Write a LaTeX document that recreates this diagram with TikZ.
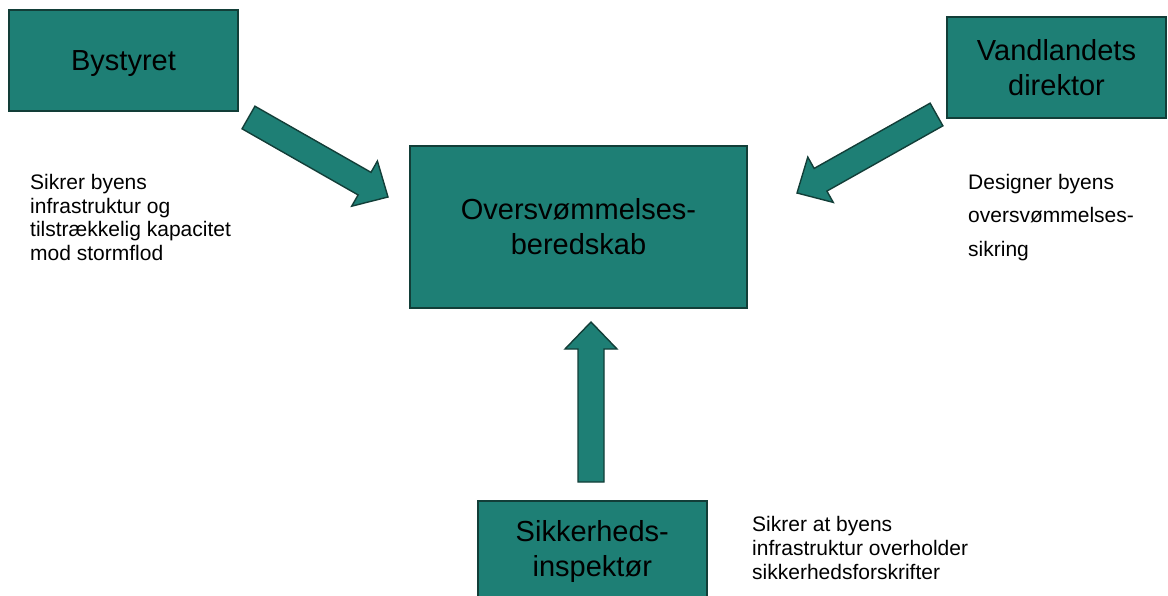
\documentclass[tikz,border=0pt]{standalone}
\usepackage{fontspec}
\setmainfont{Liberation Sans}
\usetikzlibrary{calc}
\definecolor{tealfill}{RGB}{30,127,117}
\definecolor{tealedge}{RGB}{18,62,56}
\tikzset{
  box/.style={draw=tealedge, fill=tealfill, line width=1.6pt, inner sep=0pt, align=center,
    font=\fontsize{29}{35}\selectfont},
  note/.style={anchor=north west, inner sep=0pt, align=left},
  blockarr/.style={draw=tealedge, fill=tealfill, line width=1.4pt, line join=miter}
}
\newcommand\myblockarrow[2]{%
  \path ($(#2)!27pt!(#1)$) coordinate (ha);
  \filldraw[blockarr] ($(#1)!13pt!90:(#2)$) -- ($(ha)!13pt!90:(#2)$) -- ($(ha)!26pt!90:(#2)$) -- (#2)
    -- ($(ha)!26pt!-90:(#2)$) -- ($(ha)!13pt!-90:(#2)$) -- ($(#1)!13pt!-90:(#2)$) -- cycle;}
\begin{document}
\begin{tikzpicture}[x=1pt,y=-1pt]
\useasboundingbox (0,0) rectangle (1168,596);
\node[box, minimum width=229pt, minimum height=101pt, text depth=0pt] (by) at (123.5,60.5) {Bystyret};
\node[box, minimum width=219pt, minimum height=101pt] (va) at (1056.5,67.5) {Vandlandets\\direktor};
\node[box, minimum width=337pt, minimum height=162pt] (ob) at (578.5,227) {Oversvømmelses-\\beredskab};
\node[box, minimum width=229pt, minimum height=101pt] (si) at (592.3,551.5) {Sikkerheds-\\inspektør};

\node[note, font=\fontsize{21}{23.6}\selectfont] (t1) at (30,174) {Sikrer byens\\infrastruktur og\\tilstrækkelig kapacitet\\mod stormflod};
\node[note, font=\fontsize{21}{33.3}\selectfont] (t2) at (968,174) {Designer byens\\oversvømmelses-\\sikring};
\node[note, font=\fontsize{21}{24}\selectfont] (t3) at (752,516) {Sikrer at byens\\infrastruktur overholder\\sikkerhedsforskrifter};

\coordinate (a1s) at (248.5,117.5);
\coordinate (a1e) at (388,197);
\coordinate (a2s) at (936.5,114.5);
\coordinate (a2e) at (797,193);
\coordinate (a3s) at (591,482);
\coordinate (a3e) at (591,322);
\myblockarrow{a1s}{a1e}
\myblockarrow{a2s}{a2e}
\myblockarrow{a3s}{a3e}
\end{tikzpicture}
\end{document}
